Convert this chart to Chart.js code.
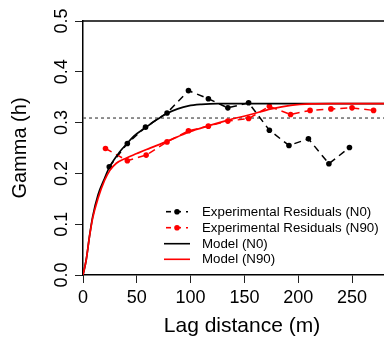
<!DOCTYPE html>
<html>
<head>
<meta charset="utf-8">
<script src="https://cdn.jsdelivr.net/npm/chart.js@4"></script>
<style>
  html, body { margin: 0; padding: 0; background: #fff; overflow: hidden; }
  #chart { display: block; }
</style>
</head>
<body>
<canvas id="chart" width="405" height="343"></canvas>
<script>
// experimental residual semivariogram points
var lagN0 = [24.4, 41.2, 58.1, 78.1, 98, 116.5, 134.6, 153.9, 173.2, 191.4, 209.5, 228.5, 247.6];
var gammaN0 = [0.213, 0.259, 0.291, 0.319, 0.363, 0.347, 0.329, 0.339, 0.285, 0.255, 0.268, 0.219, 0.251];
var lagN90 = [20.9, 41.2, 58.7, 78.1, 98, 116.5, 134.6, 153.9, 173.2, 192.9, 211, 230.4, 250, 270];
var gammaN90 = [0.249, 0.225, 0.236, 0.262, 0.284, 0.293, 0.303, 0.308, 0.332, 0.316, 0.324, 0.327, 0.329, 0.324];

// fitted model curves
var modelLagN0 = [0, 3, 6, 9, 14, 20, 24, 34, 41, 47, 58, 68, 78, 88, 98, 110, 125, 295];
var modelGammaN0 = [0, 0.03, 0.076, 0.115, 0.158, 0.19, 0.21, 0.242, 0.259, 0.273, 0.29, 0.305, 0.318, 0.327, 0.333, 0.336, 0.3375, 0.3375];
var modelLagN90 = [0, 3, 6, 9, 14, 20, 25, 31, 40, 50, 59, 78, 98, 117, 135, 154, 175, 193, 212, 230, 295];
var modelGammaN90 = [0, 0.03, 0.075, 0.112, 0.151, 0.186, 0.206, 0.22, 0.23, 0.239, 0.247, 0.263, 0.281, 0.294, 0.305, 0.315, 0.327, 0.334, 0.337, 0.3375, 0.3375];

var sillLevel = 0.309;
var xMax = 295.5;
var xTicks = [0, 50, 100, 150, 200, 250];
var yTicks = [0, 0.1, 0.2, 0.3, 0.4, 0.5];

var seriesLabels = ['Experimental Residuals (N0)', 'Experimental Residuals (N90)', 'Model (N0)', 'Model (N90)'];

function toPoints(xs, ys) {
  return xs.map(function(x, i) { return { x: x, y: ys[i] }; });
}

// R style legend drawn inside the plot
var legendPlugin = {
  id: 'rLegend',
  afterDraw: function(chart) {
    var ctx = chart.ctx;
    var rows = [211.7, 227.7, 243.7, 259.3];
    var styles = [
      { color: '#000', dash: true },
      { color: '#ff0000', dash: true },
      { color: '#000', dash: false },
      { color: '#ff0000', dash: false }
    ];
    ctx.save();
    ctx.font = '13.3px "Liberation Sans", Arial, sans-serif';
    ctx.textBaseline = 'middle';
    ctx.textAlign = 'left';
    for (var i = 0; i < rows.length; i++) {
      var y = rows[i];
      var s = styles[i];
      ctx.strokeStyle = s.color;
      ctx.lineWidth = 1.6;
      if (s.dash) {
        ctx.setLineDash([5, 5]);
        ctx.beginPath();
        ctx.moveTo(166, y);
        ctx.lineTo(188, y);
        ctx.stroke();
        ctx.setLineDash([]);
        ctx.fillStyle = s.color;
        ctx.beginPath();
        ctx.arc(177, y, 2.8, 0, Math.PI * 2);
        ctx.fill();
      } else {
        ctx.beginPath();
        ctx.moveTo(164, y);
        ctx.lineTo(190, y);
        ctx.stroke();
      }
      ctx.fillStyle = '#000';
      ctx.fillText(seriesLabels[i], 202, y + 0.5);
    }
    ctx.restore();
  }
};

// box around the plotting region (top line)
var boxPlugin = {
  id: 'rBox',
  afterDraw: function(chart) {
    var a = chart.chartArea;
    var ctx = chart.ctx;
    ctx.save();
    ctx.strokeStyle = '#000';
    ctx.lineWidth = 1.5;
    ctx.beginPath();
    ctx.moveTo(a.left, a.top);
    ctx.lineTo(a.right, a.top);
    ctx.stroke();
    ctx.restore();
  }
};

var ctx = document.getElementById('chart').getContext('2d');
var chart = new Chart(ctx, {
  type: 'line',
  data: {
    datasets: [
      {
        label: 'sill',
        data: toPoints([0, xMax], [sillLevel, sillLevel]),
        borderColor: '#555',
        borderWidth: 1.3,
        borderDash: [3, 3],
        pointRadius: 0,
        order: 4
      },
      {
        label: seriesLabels[0],
        data: toPoints(lagN0, gammaN0),
        borderColor: '#000',
        backgroundColor: '#000',
        borderWidth: 1.5,
        borderDash: [7, 5],
        pointRadius: 2.8,
        pointBorderWidth: 0,
        order: 3
      },
      {
        label: seriesLabels[1],
        data: toPoints(lagN90, gammaN90),
        borderColor: '#ff0000',
        backgroundColor: '#ff0000',
        borderWidth: 1.5,
        borderDash: [7, 5],
        pointRadius: 2.8,
        pointBorderWidth: 0,
        order: 2
      },
      {
        label: seriesLabels[2],
        data: toPoints(modelLagN0, modelGammaN0),
        borderColor: '#000',
        borderWidth: 1.7,
        pointRadius: 0,
        cubicInterpolationMode: 'monotone',
        order: 1
      },
      {
        label: seriesLabels[3],
        data: toPoints(modelLagN90, modelGammaN90),
        borderColor: '#ff0000',
        borderWidth: 1.7,
        pointRadius: 0,
        cubicInterpolationMode: 'monotone',
        order: 0
      }
    ]
  },
  options: {
    responsive: false,
    animation: false,
    devicePixelRatio: 1,
    layout: { padding: { top: 21, right: 0, bottom: 0, left: 0 } },
    plugins: {
      legend: { display: false },
      tooltip: { enabled: false }
    },
    scales: {
      x: {
        type: 'linear',
        min: 0,
        max: xMax,
        afterFit: function(scale) { scale.height = 68; scale.paddingRight = 0; },
        afterBuildTicks: function(scale) {
          scale.ticks = xTicks.map(function(v) { return { value: v }; });
        },
        border: { display: true, color: '#000', width: 1.5 },
        grid: { drawOnChartArea: false, tickLength: 8, color: '#222', lineWidth: 1 },
        ticks: {
          color: '#000',
          padding: 4,
          maxRotation: 0,
          font: { family: '"Liberation Sans", Arial, sans-serif', size: 18 }
        },
        title: {
          display: true,
          text: 'Lag distance (m)',
          color: '#000',
          padding: { top: 0, bottom: 4 },
          font: { family: '"Liberation Sans", Arial, sans-serif', size: 21 }
        }
      },
      y: {
        type: 'linear',
        min: 0,
        max: 0.5,
        afterFit: function(scale) { scale.width = 83; },
        afterBuildTicks: function(scale) {
          scale.ticks = yTicks.map(function(v) { return { value: v }; });
        },
        border: { display: true, color: '#000', width: 1.5 },
        grid: { drawOnChartArea: false, tickLength: 8, color: '#222', lineWidth: 1 },
        ticks: {
          color: '#000',
          padding: 0,
          minRotation: 90,
          maxRotation: 90,
          crossAlign: 'center',
          font: { family: '"Liberation Sans", Arial, sans-serif', size: 18 },
          callback: function(v) { return v.toFixed(1); }
        },
        title: {
          display: true,
          text: 'Gamma (h)',
          color: '#000',
          padding: { top: 8, bottom: 0 },
          font: { family: '"Liberation Sans", Arial, sans-serif', size: 20 }
        }
      }
    }
  },
  plugins: [boxPlugin, legendPlugin]
});
</script>
</body>
</html>
